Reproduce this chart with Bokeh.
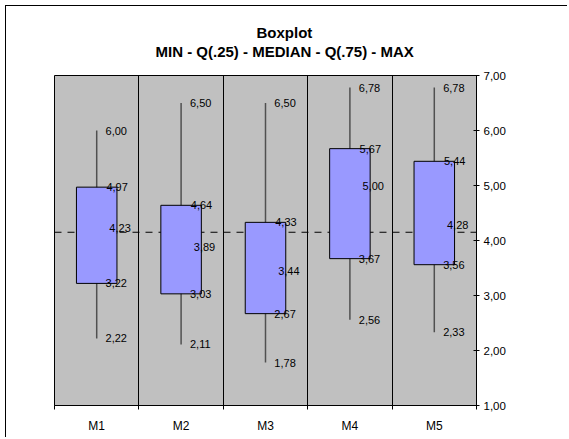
from bokeh.plotting import figure
from bokeh.models import Range1d, FixedTicker, Span, Title, ColumnDataSource
from bokeh.core.properties import value
from bokeh.embed import file_html
from bokeh.resources import INLINE

# ---- data ----
categories = ["M1", "M2", "M3", "M4", "M5"]
mins = [2.22, 2.11, 1.78, 2.56, 2.33]
q25 = [3.22, 3.03, 2.67, 3.67, 3.56]
medians = [4.23, 3.89, 3.44, 5.00, 4.28]
q75 = [4.97, 4.64, 4.33, 5.67, 5.44]
maxs = [6.00, 6.50, 6.50, 6.78, 6.78]
ref_level = 4.15
y_ticks = [1, 2, 3, 4, 5, 6, 7]
y_tick_labels = ["1,00", "2,00", "3,00", "4,00", "5,00", "6,00", "7,00"]

FONT = "Liberation Sans"

def fmt(v):
    return f"{v:.2f}".replace(".", ",")

xs = list(range(len(categories)))
bw = 0.48

p = figure(width=562, height=432, output_backend="svg", toolbar_location=None,
           x_range=Range1d(-0.5, len(categories) - 0.5), y_range=Range1d(1, 7),
           y_axis_location="right", title=None,
           min_border_left=48, min_border_top=69, min_border_right=92, min_border_bottom=33)
p.styles = {"border-left": "1px solid black", "border-top": "1px solid black",
            "margin-left": "5px", "margin-top": "5px"}
p.background_fill_color = "#C0C0C0"
p.border_fill_color = "white"
p.outline_line_color = "black"
p.outline_line_width = 1

# grid: vertical separators between categories
p.ygrid.grid_line_color = None
p.xgrid.ticker = FixedTicker(ticks=[i + 0.5 for i in xs[:-1]])
p.xgrid.grid_line_color = "black"
p.xgrid.grid_line_alpha = 1.0
p.xgrid.grid_line_width = 1

# reference dashed line
p.add_layout(Span(location=ref_level, dimension="width", line_color="black",
                  line_dash="7 6", line_width=1, level="underlay"))

src = ColumnDataSource(dict(x=xs, mn=mins, q1=q25, md=medians, q3=q75, mx=maxs,
                            left=[x - bw / 2 for x in xs], right=[x + bw / 2 for x in xs]))

# whiskers
p.segment(x0="x", y0="mn", x1="x", y1="mx", source=src, line_color="#505050", line_width=1.5)
# boxes
p.quad(left="left", right="right", bottom="q1", top="q3", source=src,
       fill_color="#9999FF", line_color="black", line_width=1)

# value labels
def add_labels(vals, dx):
    s = ColumnDataSource(dict(x=[x + dx for x in xs], y=vals, t=[fmt(v) for v in vals]))
    p.text(x="x", y="y", text="t", source=s, text_font=value(FONT), text_font_size="11px",
           text_align="left", text_baseline="middle", text_color="black")

add_labels(maxs, 0.105)
add_labels(q75, 0.115)
add_labels(medians, 0.15)
add_labels(q25, 0.105)
add_labels(mins, 0.105)

# x axis
xa = p.xaxis[0]
xa.ticker = FixedTicker(ticks=xs, minor_ticks=[x - 0.5 for x in xs] + [xs[-1] + 0.5])
xa.major_label_overrides = {x: c for x, c in zip(xs, categories)}
xa.major_tick_line_color = None
xa.major_tick_out = 4
xa.major_tick_in = 0
xa.minor_tick_line_color = "black"
xa.minor_tick_out = 4
xa.minor_tick_in = 0
xa.axis_line_color = "black"
xa.major_label_standoff = 9
xa.major_label_text_font = FONT
xa.major_label_text_font_size = "12px"
xa.major_label_text_color = "black"

# y axis (right)
ya = p.yaxis[0]
ya.ticker = FixedTicker(ticks=y_ticks)
ya.major_label_overrides = {t: l for t, l in zip(y_ticks, y_tick_labels)}
ya.major_tick_in = 3
ya.major_tick_out = 3
ya.minor_tick_line_color = None
ya.axis_line_color = "black"
ya.major_tick_line_color = "black"
ya.major_label_standoff = 4
ya.major_label_text_font = FONT
ya.major_label_text_font_size = "11.5px"
ya.major_label_text_color = "black"

# titles (first added is closest to the frame)
p.add_layout(Title(text="MIN - Q(.25) - MEDIAN - Q(.75) - MAX", align="left", offset=101,
                   text_font=FONT, text_font_size="15px", text_font_style="bold",
                   text_color="black", standoff=32), "above")
p.add_layout(Title(text="Boxplot", align="left", offset=202,
                   text_font=FONT, text_font_size="15px", text_font_style="bold",
                   text_color="black", standoff=-32), "above")

open("out.html", "w").write(file_html(p, INLINE))
